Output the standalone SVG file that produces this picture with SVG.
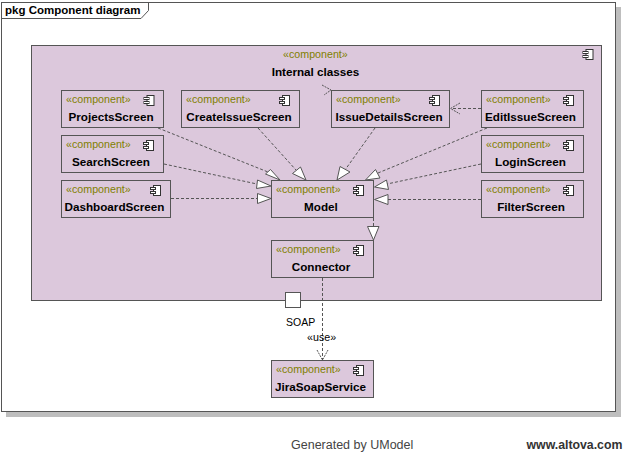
<svg xmlns="http://www.w3.org/2000/svg" width="632" height="452" viewBox="0 0 632 452">
<style>
text{font-family:"Liberation Sans",Arial,sans-serif;font-size:11px}
.box{fill:#dcc8dc;stroke:#555;stroke-width:1}
.st{fill:#808000;font-size:10.7px}
.nm{font-weight:bold;fill:#000;text-anchor:middle;font-size:11.7px}
.dash{fill:none;stroke:#555;stroke-width:1;stroke-dasharray:3 2}
.tri{fill:#fff;stroke:#555;stroke-width:1}
.open{fill:none;stroke:#555;stroke-width:1;stroke-dasharray:2 1}
</style>
<defs>
<g id="icon">
<rect x="3.5" y="0.5" width="7" height="10" fill="#fff" stroke="#333"/>
<rect x="0.5" y="2.5" width="5" height="2" fill="#fff" stroke="#333"/>
<rect x="0.5" y="6.5" width="5" height="2" fill="#fff" stroke="#333"/>
</g>
</defs>
<rect width="632" height="452" fill="#fff"/>
<rect x="6" y="7" width="615" height="410" fill="#bebebe"/>
<rect id="frame" x="1.5" y="2.5" width="614" height="409" fill="#fff" stroke="#555"/>
<path d="M1.5 18.5H141L148.5 10.5V2.5" fill="none" stroke="#555"/>
<text x="5" y="14" style="font-weight:bold;font-size:11.5px">pkg Component diagram</text>

<g id="internal-classes">
<rect class="box" x="31.5" y="45.5" width="570" height="255"/>
<use href="#icon" x="582.5" y="49"/>
<text class="st" x="283" y="58">«component»</text>
<text class="nm" x="315.5" y="76">Internal classes</text>
</g>

<g id="ProjectsScreen"><rect class="box" x="61.5" y="90.5" width="102" height="37"/><use href="#icon" x="143.5" y="95"/><text class="st" x="66" y="103">«component»</text><text class="nm" x="111" y="121">ProjectsScreen</text></g>
<g id="CreateIssueScreen"><rect class="box" x="181.5" y="90.5" width="118" height="37"/><use href="#icon" x="279" y="95"/><text class="st" x="186" y="103">«component»</text><text class="nm" x="239" y="121">CreateIssueScreen</text></g>
<g id="IssueDetailsScreen"><rect class="box" x="331.5" y="90.5" width="118" height="37"/><use href="#icon" x="429" y="95"/><text class="st" x="336" y="103">«component»</text><text class="nm" x="389" y="121">IssueDetailsScreen</text></g>
<g id="EditIssueScreen"><rect class="box" x="481.5" y="90.5" width="102" height="37"/><use href="#icon" x="563" y="95"/><text class="st" x="486" y="103">«component»</text><text class="nm" x="530.5" y="121">EditIssueScreen</text></g>
<g id="SearchScreen"><rect class="box" x="61.5" y="135.5" width="102" height="37"/><use href="#icon" x="143" y="140"/><text class="st" x="66" y="148">«component»</text><text class="nm" x="111" y="166">SearchScreen</text></g>
<g id="LoginScreen"><rect class="box" x="481.5" y="135.5" width="102" height="37"/><use href="#icon" x="563" y="140"/><text class="st" x="486" y="148">«component»</text><text class="nm" x="530.5" y="166">LoginScreen</text></g>
<g id="DashboardScreen"><rect class="box" x="61.5" y="180.5" width="109" height="37"/><use href="#icon" x="150" y="185"/><text class="st" x="66" y="193">«component»</text><text class="nm" x="114.5" y="211">DashboardScreen</text></g>
<g id="FilterScreen"><rect class="box" x="481.5" y="180.5" width="102" height="37"/><use href="#icon" x="563" y="185"/><text class="st" x="486" y="193">«component»</text><text class="nm" x="531" y="211">FilterScreen</text></g>
<g id="Model"><rect class="box" x="271.5" y="180.5" width="102" height="37"/><use href="#icon" x="353" y="185"/><text class="st" x="276" y="193">«component»</text><text class="nm" x="321" y="211">Model</text></g>
<g id="Connector"><rect class="box" x="271.5" y="240.5" width="102" height="37"/><use href="#icon" x="353" y="245"/><text class="st" x="276" y="253">«component»</text><text class="nm" x="321" y="271">Connector</text></g>
<g id="JiraSoapService"><rect class="box" x="271.5" y="360.5" width="102" height="37"/><use href="#icon" x="353" y="365"/><text class="st" x="276" y="373">«component»</text><text class="nm" x="320.5" y="391">JiraSoapService</text></g>

<g id="port"><rect x="285.5" y="292.5" width="15" height="15" fill="#fff" stroke="#555"/><text x="286" y="326" fill="#000" style="font-size:10.5px">SOAP</text></g>

<g id="connectors">
<path class="dash" d="M158 128L268 172"/><polygon class="tri" points="265.5,174 270.5,169.5 280,180"/>
<path class="dash" d="M258 128L296 170"/><polygon class="tri" points="292.5,173.5 300.5,167 306,180"/>
<path class="dash" d="M164 164L257 184"/><polygon class="tri" points="257.5,180 256.5,188.5 271,186"/>
<path class="dash" d="M171 198.5H257"/><polygon class="tri" points="257.5,193.5 257.5,203.5 271,198.5"/>
<path class="dash" d="M375 128L345 170"/><polygon class="tri" points="340,166.5 350,172 337,180"/>
<path class="dash" d="M487 128L378 173"/><polygon class="tri" points="375.5,169.5 380,178 365.5,180"/>
<path class="dash" d="M481 164L387 184"/><polygon class="tri" points="386.5,180 388.5,189.5 374.5,187"/>
<path class="dash" d="M481 199.5H388"/><polygon class="tri" points="388,194.5 388,204.5 374.5,199.5"/>
<path class="dash" d="M373.5 218V227"/><polygon class="tri" points="367.5,226.5 379,226.5 373.5,240"/>
<path class="dash" d="M481 108.5H451"/><path class="open" d="M460 103L450.5 108.5L460 114"/>
<path class="open" d="M322 85L331 90L324 95"/>
<path class="dash" d="M322.5 278V360"/><path class="open" d="M317 350L322.5 360L328 350"/>
<text x="307" y="341" fill="#000" style="font-size:10.7px">«use»</text>
</g>

<text x="291" y="449" style="font-size:12.5px" fill="#444">Generated by UModel</text>
<text x="526.5" y="449" style="font-size:12.3px;font-weight:bold" fill="#333">www.altova.com</text>
</svg>
